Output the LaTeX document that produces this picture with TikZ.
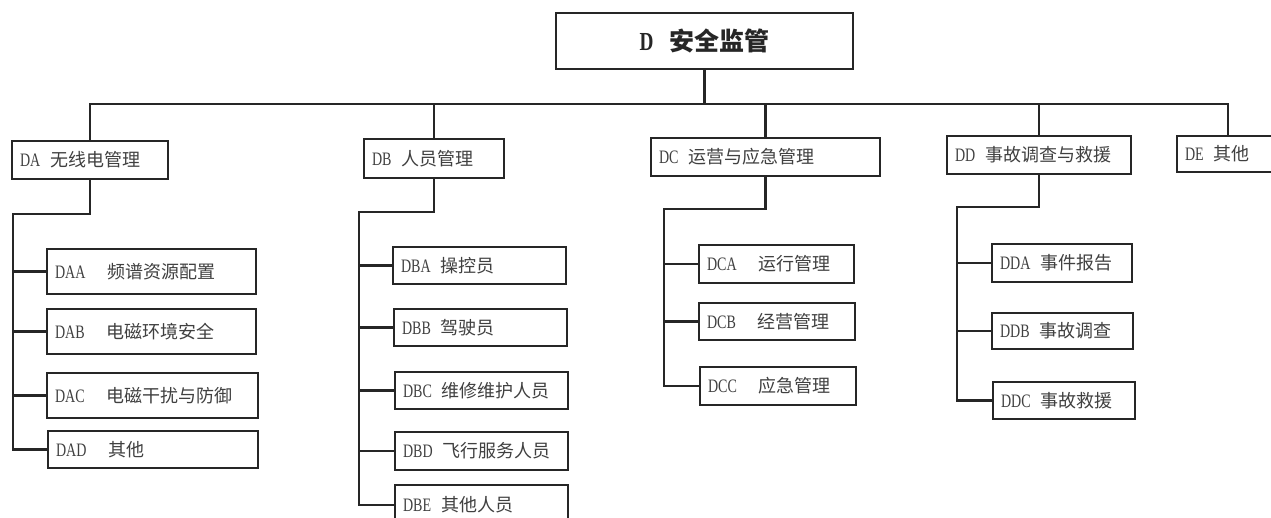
\documentclass[tikz,border=0pt]{standalone}
\usepackage{fontspec}
\setmainfont{Noto Sans CJK SC}
\newfontfamily\latc[FakeStretch=0.74]{Liberation Serif}
\newcommand\cd[2]{{\latc\fontsize{19}{20}\selectfont #1}\hspace{#2pt}}
\begin{document}
\begin{tikzpicture}[x=1pt,y=-1pt,
  box/.style={draw=black!85, line width=1.8pt, fill=white, inner xsep=8pt, inner ysep=0pt,
    align=left, font=\fontsize{18}{20}\selectfont, text=black!75},
  ln/.style={draw=black!85, line width=2.4pt}]
\useasboundingbox (0,0) rectangle (1271,518);
\clip (0,0) rectangle (1271,518);
\fill[white] (0,0) rectangle (1271,518);

% top
\node[box, minimum width=297pt, minimum height=56pt, align=center, text=black!85,
  font=\fontsize{25}{28}\selectfont\bfseries] (D) at (704.5,41) {{\latc\bfseries\fontsize{26}{28}\selectfont D}\hspace{16pt}安全监管};

% level 1
\node[box, text width=140pt, minimum height=38pt] (DA) at (90,160) {\cd{DA}{10}无线电管理};
\node[box, text width=124pt, minimum height=39pt] (DB) at (434,158.5) {\cd{DB}{10}人员管理};
\node[box, text width=213pt, minimum height=38pt] (DC) at (765.5,157) {\cd{DC}{10}运营与应急管理};
\node[box, text width=168pt, minimum height=38pt] (DD) at (1039,155) {\cd{DD}{10}事故调查与救援};
\node[box, text width=86pt, minimum height=36pt] (DE) at (1228,154) {\cd{DE}{10}其他};

% level 2 DA
\node[box, text width=193pt, minimum height=45pt] (DAA) at (151.5,271.5) {\cd{DAA}{22}频谱资源配置};
\node[box, text width=193pt, minimum height=45pt] (DAB) at (151.5,331.5) {\cd{DAB}{22}电磁环境安全};
\node[box, text width=195pt, minimum height=45pt] (DAC) at (152.5,395.5) {\cd{DAC}{22}电磁干扰与防御};
\node[box, text width=194pt, minimum height=37pt] (DAD) at (153,449.5) {\cd{DAD}{22}其他};
% DB
\node[box, text width=157pt, minimum height=37pt] (DBA) at (479.5,265.5) {\cd{DBA}{10}操控员};
\node[box, text width=157pt, minimum height=37pt] (DBB) at (480.5,327.5) {\cd{DBB}{10}驾驶员};
\node[box, text width=157pt, minimum height=37pt] (DBC) at (481.5,390.5) {\cd{DBC}{10}维修维护人员};
\node[box, text width=157pt, minimum height=38pt] (DBD) at (481.5,451) {\cd{DBD}{10}飞行服务人员};
\node[box, text width=157pt, minimum height=40pt] (DBE) at (481.5,505) {\cd{DBE}{10}其他人员};
% DC
\node[box, text width=139pt, minimum height=38pt] (DCA) at (776.5,264) {\cd{DCA}{22}运行管理};
\node[box, text width=140pt, minimum height=37pt] (DCB) at (777,321.5) {\cd{DCB}{22}经营管理};
\node[box, text width=140pt, minimum height=38pt] (DCC) at (778,386) {\cd{DCC}{22}应急管理};
% DD
\node[box, text width=124pt, minimum height=38pt] (DDA) at (1062,263) {\cd{DDA}{10}事件报告};
\node[box, text width=125pt, minimum height=36pt] (DDB) at (1062.5,331) {\cd{DDB}{10}事故调查};
\node[box, text width=126pt, minimum height=37pt] (DDC) at (1064,400.5) {\cd{DDC}{10}事故救援};

% bus
\coordinate (bus) at (0,104);
\draw[ln] (D.south) -- (D.south |- bus);
\draw[ln] (DA.north) -- (DA.north |- bus) -| (DE.north);
\draw[ln] (DB.north) -- (DB.north |- bus);
\draw[ln] (DC.north) -- (DC.north |- bus);
\draw[ln] (DD.north) -- (DD.north |- bus);

% DA branch
\coordinate (ta) at (13,214);
\draw[ln] (DA.south) |- (ta) |- (DAD.west);
\draw[ln] (ta |- DAA.west) -- (DAA.west);
\draw[ln] (ta |- DAB.west) -- (DAB.west);
\draw[ln] (ta |- DAC.west) -- (DAC.west);
% DB branch
\coordinate (tb) at (359,212);
\draw[ln] (DB.south) |- (tb) |- (DBE.west);
\draw[ln] (tb |- DBA.west) -- (DBA.west);
\draw[ln] (tb |- DBB.west) -- (DBB.west);
\draw[ln] (tb |- DBC.west) -- (DBC.west);
\draw[ln] (tb |- DBD.west) -- (DBD.west);
% DC branch
\coordinate (tc) at (664,209);
\draw[ln] (DC.south) |- (tc) |- (DCC.west);
\draw[ln] (tc |- DCA.west) -- (DCA.west);
\draw[ln] (tc |- DCB.west) -- (DCB.west);
% DD branch
\coordinate (td) at (957,207);
\draw[ln] (DD.south) |- (td) |- (DDC.west);
\draw[ln] (td |- DDA.west) -- (DDA.west);
\draw[ln] (td |- DDB.west) -- (DDB.west);
\end{tikzpicture}
\end{document}
